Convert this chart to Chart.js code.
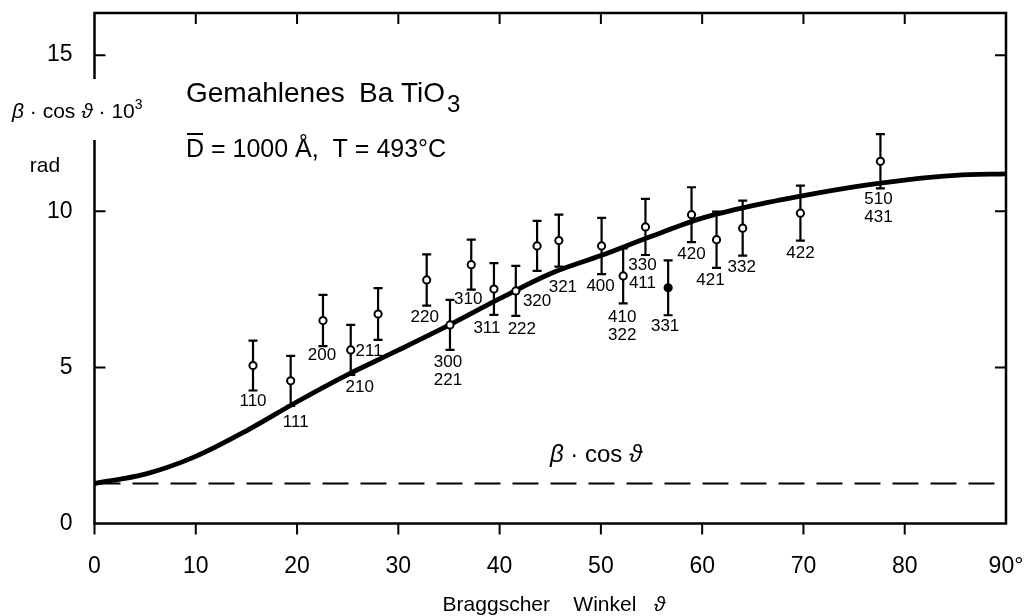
<!DOCTYPE html>
<html lang="de">
<head>
<meta charset="UTF-8">
<title>Gemahlenes BaTiO3 – Linienbreite</title>
<script src="https://cdn.jsdelivr.net/npm/chart.js@4"></script>
<style>
  html, body { margin: 0; padding: 0; background: #fff; }
  #chart { display: block; }
</style>
</head>
<body>
<canvas id="chart" width="1028" height="616"></canvas>
<script>
// Reflexe (hkl) mit Bragg-Winkel in Grad und beta*cos(theta)*10^3 in rad
const reflexLabels = [['110'], ['111'], ['200'], ['210'], ['211'], ['220'], ['300', '221'], ['310'], ['311'], ['222'],
  ['320'], ['321'], ['400'], ['410', '322'], ['330', '411'], ['331'], ['420'], ['421'], ['332'], ['422'], ['510', '431']];
const braggAngle = [15.65, 19.37, 22.56, 25.3, 28.0, 32.8, 35.1, 37.2, 39.44, 41.6,
  43.7, 45.85, 50.07, 52.2, 54.4, 56.64, 58.95, 61.42, 64.0, 69.7, 77.6];
const breadth = [5.06, 4.57, 6.5, 5.56, 6.71, 7.8, 6.36, 8.29, 7.51, 7.45,
  8.89, 9.06, 8.89, 7.93, 9.5, 7.55, 9.89, 9.09, 9.46, 9.94, 11.6];
const breadthErr = [0.8, 0.8, 0.82, 0.8, 0.83, 0.82, 0.8, 0.8, 0.83, 0.8,
  0.8, 0.83, 0.9, 0.88, 0.9, 0.88, 0.88, 0.9, 0.88, 0.88, 0.87];
const filledReflex = ['331'];

// berechnete Kurve
const curveAngle = [0, 5, 10, 15, 20, 25, 30, 35, 40, 45, 50, 55, 60, 65, 70, 75, 80, 85, 90];
const curveValue = [1.28, 1.58, 2.15, 2.97, 3.9, 4.77, 5.55, 6.35, 7.2, 8.0, 8.58, 9.2, 9.78, 10.18, 10.5, 10.78, 11.0, 11.15, 11.2];

// Geraetebreite (gestrichelt)
const instrumentAngle = [0, 90];
const instrumentValue = [1.28, 1.28];

const xTicks = [0, 10, 20, 30, 40, 50, 60, 70, 80, 90];
const yTicks = [0, 5, 10, 15];

// Lage der hkl-Beschriftung relativ zum Messpunkt (px)
const labelShift = [[0, 36], [5, 42], [-1, 35], [9, 37], [-9, 37], [-2, 37], [-2, 37], [-3, 35], [-7, 39], [6, 38],
  [0, 55], [4, 47], [-1, 40], [-1, 41], [-3, 38], [-3, 39], [0, 40], [-6, 41], [-1, 39], [0, 40], [-2, 38]];

const FONT = "'Liberation Sans', Arial, sans-serif";

// Text aus Teilstuecken (kursiv / normal) zusammensetzen
function drawRich(ctx, parts, x, y, size, align) {
  const widths = parts.map(p => {
    ctx.font = (p.italic ? 'italic ' : '') + (p.size || size) + 'px ' + FONT;
    return ctx.measureText(p.text).width;
  });
  const total = widths.reduce((a, b) => a + b, 0);
  let cx = align === 'center' ? x - total / 2 : x;
  ctx.textAlign = 'left';
  parts.forEach((p, i) => {
    ctx.font = (p.italic ? 'italic ' : '') + (p.size || size) + 'px ' + FONT;
    ctx.fillText(p.text, cx, y + (p.dy || 0));
    cx += widths[i];
  });
}

const frameAndBars = {
  id: 'frameAndBars',
  beforeDatasetsDraw(chart) {
    const { ctx, chartArea: a, scales: { x, y } } = chart;
    ctx.save();
    ctx.strokeStyle = '#000';
    ctx.lineWidth = 2.5;
    ctx.strokeRect(a.left, a.top, a.right - a.left, a.bottom - a.top);

    ctx.lineWidth = 2;
    ctx.beginPath();
    xTicks.forEach(v => {
      const px = x.getPixelForValue(v);
      if (v < 90) { ctx.moveTo(px, a.bottom); ctx.lineTo(px, a.bottom + 11); }
      if (v > 0 && v < 90) { ctx.moveTo(px, a.top); ctx.lineTo(px, a.top + 11); }
    });
    yTicks.forEach(v => {
      if (v === 0) return;
      const py = y.getPixelForValue(v);
      ctx.moveTo(a.left, py); ctx.lineTo(a.left + 11, py);
      ctx.moveTo(a.right, py); ctx.lineTo(a.right - 11, py);
    });
    ctx.stroke();

    // Fehlerbalken
    ctx.lineWidth = 2.2;
    ctx.beginPath();
    braggAngle.forEach((t, i) => {
      const px = x.getPixelForValue(t);
      const top = y.getPixelForValue(breadth[i] + breadthErr[i]);
      const bot = y.getPixelForValue(breadth[i] - breadthErr[i]);
      ctx.moveTo(px, top); ctx.lineTo(px, bot);
      ctx.moveTo(px - 4.5, top); ctx.lineTo(px + 4.5, top);
      ctx.moveTo(px - 4.5, bot); ctx.lineTo(px + 4.5, bot);
    });
    ctx.stroke();
    ctx.restore();
  },
  afterDatasetsDraw(chart) {
    const { ctx, scales: { x, y } } = chart;
    ctx.save();
    ctx.fillStyle = '#000';
    ctx.font = '17px ' + FONT;
    ctx.textAlign = 'center';
    ctx.textBaseline = 'middle';
    reflexLabels.forEach((lines, i) => {
      const px = x.getPixelForValue(braggAngle[i]) + labelShift[i][0];
      const py = y.getPixelForValue(breadth[i]) + labelShift[i][1];
      lines.forEach((s, k) => ctx.fillText(s, px, py + k * 18));
    });
    ctx.restore();
  },
  afterDraw(chart) {
    const { ctx, chartArea: a } = chart;
    ctx.save();
    ctx.fillStyle = '#000';
    ctx.textBaseline = 'alphabetic';

    // Titel
    ctx.textAlign = 'left';
    ctx.font = '28px ' + FONT;
    ctx.fillText('Gemahlenes', 186, 102);
    ctx.fillText('Ba TiO', 359, 102);
    const wBa = ctx.measureText('Ba TiO').width;
    ctx.font = '24px ' + FONT;
    ctx.fillText('3', 359 + wBa + 2, 112);

    // D-quer und Temperatur
    ctx.font = '25px ' + FONT;
    ctx.fillText('D = 1000 Å,  T = 493°C', 186, 157);
    const wD = ctx.measureText('D').width;
    ctx.lineWidth = 2;
    ctx.beginPath();
    ctx.moveTo(187, 134); ctx.lineTo(186 + wD - 1, 134);
    ctx.stroke();

    // Kurvenbeschriftung
    drawRich(ctx, [
      { text: 'β', italic: true },
      { text: ' · cos ' },
      { text: 'ϑ', italic: true }
    ], 596, 462, 24, 'center');

    // y-Achsentitel, Achse dort unterbrochen
    ctx.fillStyle = '#fff';
    ctx.fillRect(a.left - 4, 79, 8, 61);
    ctx.fillStyle = '#000';
    drawRich(ctx, [
      { text: 'β', italic: true },
      { text: ' · cos ' },
      { text: 'ϑ', italic: true },
      { text: ' · 10' },
      { text: '3', size: 14, dy: -9 }
    ], 12, 118, 21, 'left');
    ctx.font = '21px ' + FONT;
    ctx.textAlign = 'center';
    ctx.fillText('rad', 45, 172);

    // x-Achsentitel
    drawRich(ctx, [
      { text: 'Braggscher    Winkel   ' },
      { text: 'ϑ', italic: true }
    ], 554, 611, 21, 'center');
    ctx.restore();
  }
};

const ctx = document.getElementById('chart').getContext('2d');
const chart = new Chart(ctx, {
  data: {
    datasets: [
      {
        type: 'scatter',
        data: braggAngle.map((t, i) => ({ x: t, y: breadth[i] })),
        pointRadius: 3.6,
        pointBorderWidth: 2,
        pointBorderColor: '#000',
        pointBackgroundColor: reflexLabels.map(l => filledReflex.includes(l[0]) ? '#000' : '#fff')
      },
      {
        type: 'line',
        data: curveAngle.map((t, i) => ({ x: t, y: curveValue[i] })),
        borderColor: '#000',
        borderWidth: 4.8,
        pointRadius: 0,
        cubicInterpolationMode: 'monotone',
        fill: false
      },
      {
        type: 'line',
        data: instrumentAngle.map((t, i) => ({ x: t, y: instrumentValue[i] })),
        borderColor: '#000',
        borderWidth: 2,
        borderDash: [26, 12],
        pointRadius: 0,
        fill: false
      }
    ]
  },
  options: {
    responsive: false,
    animation: false,
    devicePixelRatio: 1,
    layout: { padding: { top: 13, right: 22, left: 0, bottom: 0 } },
    plugins: { legend: { display: false }, tooltip: { enabled: false } },
    scales: {
      x: {
        type: 'linear',
        min: 0,
        max: 90,
        afterFit: s => { s.height = 92.5; s.paddingLeft = 0; s.paddingRight = 0; },
        afterBuildTicks: s => { s.ticks = xTicks.map(v => ({ value: v })); },
        grid: { display: false, drawTicks: false },
        border: { display: false },
        ticks: {
          autoSkip: false,
          maxRotation: 0,
          padding: 29,
          color: '#000',
          font: { family: FONT, size: 23 },
          callback: v => v === 90 ? '90°' : String(v)
        }
      },
      y: {
        type: 'linear',
        min: 0,
        max: 16.35,
        afterFit: s => { s.width = 94.5; s.paddingTop = 0; s.paddingBottom = 0; },
        afterBuildTicks: s => { s.ticks = yTicks.map(v => ({ value: v })); },
        grid: { display: false, drawTicks: false },
        border: { display: false },
        ticks: {
          padding: 22,
          color: '#000',
          font: { family: FONT, size: 23 }
        }
      }
    }
  },
  plugins: [frameAndBars]
});
</script>
</body>
</html>
